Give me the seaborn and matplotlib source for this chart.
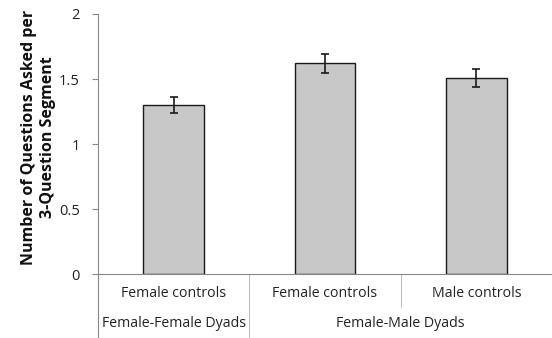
import numpy as np
import pandas as pd
import seaborn as sns
from matplotlib import pyplot as plt

# values
conditions = ['Female controls', 'Female controls ', 'Male controls']
groups = ['Female-Female Dyads', 'Female-Male Dyads']
group_spans = [(0, 0), (1, 2)]
means = [1.30, 1.62, 1.51]
errors = [0.06, 0.07, 0.07]
yticks = [0, 0.5, 1, 1.5, 2]
ytick_labels = ['0', '0.5', '1', '1.5', '2']


if __name__ == '__main__':
    sns.set_style('white')
    plt.rcParams['font.family'] = ['Open Sans', 'DejaVu Sans']

    df = pd.DataFrame({'condition': conditions, 'mean': means, 'err': errors})

    fig = plt.figure(figsize=(5.52, 3.38), dpi=100)
    ax = fig.add_axes([0.1775, 0.189, 0.8225, 0.7696])

    sns.barplot(data=df, x='condition', y='mean', color='#c8c8c8', saturation=1,
                edgecolor='#1a1a1a', linewidth=1, width=0.4, ax=ax)
    ax.errorbar(x=np.arange(len(means)), y=df['mean'], yerr=df['err'], fmt='none',
                ecolor='#1a1a1a', elinewidth=1.2, capsize=3, capthick=1.2)

    ax.set_xlim(-0.5, len(means) - 0.5)
    ax.set_ylim(0, 2)
    ax.set_yticks(yticks)
    ax.set_yticklabels(ytick_labels, fontsize=10.5, color='#222222')
    ax.tick_params(axis='y', length=4, color='#888888', pad=9, left=True)
    ax.set_xticks([])
    ax.set_xlabel('')
    ax.set_ylabel('Number of Questions Asked per\n3-Question Segment', fontsize=11.5,
                  fontweight='bold', linespacing=1.3,
                  multialignment='center', color='#111111')
    ax.yaxis.set_label_coords(-0.092, 0.525)

    for s in ['top', 'right']:
        ax.spines[s].set_visible(False)
    ax.spines['left'].set_color('#888888')
    ax.spines['bottom'].set_color('#888888')

    tr = ax.get_xaxis_transform()
    # left border of the category table
    ax.plot([-0.5, -0.5], [0, -0.25], transform=tr, color='#888888', lw=0.8, clip_on=False)
    # separator between dyad groups
    ax.plot([0.5, 0.5], [0, -0.25], transform=tr, color='#c0c0c0', lw=0.8, clip_on=False)
    # separator between controls within group 2
    ax.plot([1.5, 1.5], [0, -0.125], transform=tr, color='#c0c0c0', lw=0.8, clip_on=False)

    for i, c in enumerate(conditions):
        ax.text(i, -0.073, c.strip(), transform=tr, ha='center', va='center',
                fontsize=10.2, color='#222222')
    for g, (a, b) in zip(groups, group_spans):
        ax.text((a + b) / 2, -0.188, g, transform=tr, ha='center', va='center',
                fontsize=10.2, color='#222222')

    plt.savefig('out.png', dpi=100)
